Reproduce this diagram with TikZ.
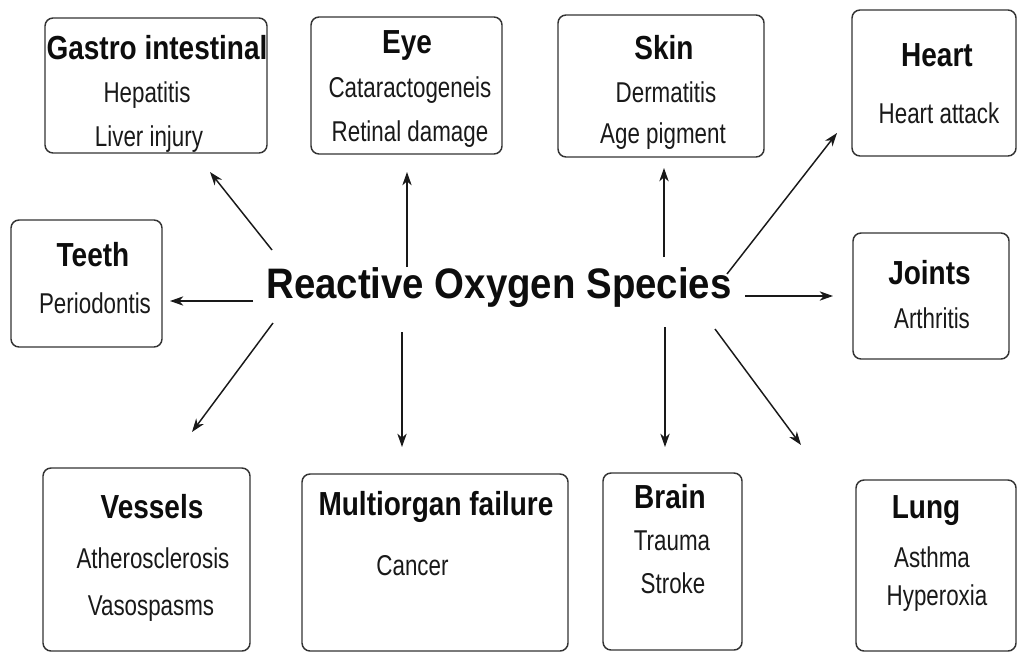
\documentclass[tikz,border=0pt]{standalone}
\usepackage{fontspec}
\setmainfont{Liberation Sans}
\newfontfamily\itemfont{Liberation Sans}[FakeStretch=0.78]
\newfontfamily\headfont{Liberation Sans}[FakeStretch=0.84]
\newfontfamily\rosfont{Liberation Sans}[FakeStretch=0.9]
\usetikzlibrary{arrows.meta}

\tikzset{
  box/.style={draw=black!80, line width=1.1pt, rounded corners=6pt, inner sep=0pt},
  head/.style={font=\headfont\bfseries\fontsize{25}{28}\selectfont, anchor=base, text=black!95, inner sep=0pt},
  item/.style={font=\itemfont\fontsize{21.5}{24}\selectfont, anchor=base, text=black!90, inner sep=0pt},
  arr/.style={-{Stealth[length=10pt,width=7pt,inset=3pt]}, line width=1.1pt, black!90}
}

\begin{document}
\begin{tikzpicture}[x=0.75pt,y=-0.75pt]
\useasboundingbox (0,0) rectangle (1018,653);
% boxes
\node[box, minimum width=166.5pt, minimum height=101.25pt] (gastro) at (156,85.5) {};
\node[box, minimum width=143.25pt, minimum height=102.75pt] (eye) at (406.5,85.5) {};
\node[box, minimum width=154.5pt, minimum height=106.5pt] (skin) at (661,86) {};
\node[box, minimum width=123pt, minimum height=109.5pt] (heart) at (934,83) {};
\node[box, minimum width=113.25pt, minimum height=95.25pt] (teeth) at (86.5,283.5) {};
\node[box, minimum width=117pt, minimum height=94.5pt] (joints) at (931,296) {};
\node[box, minimum width=155.25pt, minimum height=137.25pt] (vessels) at (146.5,559.5) {};
\node[box, minimum width=199.5pt, minimum height=132.75pt] (multi) at (435,562.5) {};
\node[box, minimum width=104.25pt, minimum height=132.75pt] (brain) at (672.5,561.5) {};
\node[box, minimum width=120pt, minimum height=128.25pt] (lung) at (936,565.5) {};

% texts
\node[head] (gastro-t) at (157,59) {Gastro intestinal};
\node[item] (gastro-a) at (147,102) {Hepatitis};
\node[item] (gastro-b) at (149,146) {Liver injury};
\node[head] (eye-t) at (407,53) {Eye};
\node[item] (eye-a) at (410,97) {Cataractogeneis};
\node[item] (eye-b) at (410,141) {Retinal damage};
\node[head] (skin-t) at (664,60) {Skin};
\node[item] (skin-a) at (666,102) {Dermatitis};
\node[item] (skin-b) at (663,143) {Age pigment};
\node[head] (heart-t) at (937,66) {Heart};
\node[item] (heart-a) at (939,123) {Heart attack};
\node[head] (teeth-t) at (93,266) {Teeth};
\node[item] (teeth-a) at (95,313) {Periodontis};
\node[head] (joints-t) at (929.5,284) {Joints};
\node[item] (joints-a) at (932,328) {Arthritis};
\node[head] (vessels-t) at (152,518) {Vessels};
\node[item] (vessels-a) at (153,568) {Atherosclerosis};
\node[item] (vessels-b) at (151,615) {Vasospasms};
\node[head] (multi-t) at (436,515) {Multiorgan failure};
\node[item] (multi-a) at (412.5,575) {Cancer};
\node[head] (brain-t) at (670,508) {Brain};
\node[item] (brain-a) at (672,550) {Trauma};
\node[item] (brain-b) at (673,593) {Stroke};
\node[head] (lung-t) at (926,518) {Lung};
\node[item] (lung-a) at (932,567) {Asthma};
\node[item] (lung-b) at (937,605) {Hyperoxia};

\node[font=\rosfont\bfseries\fontsize{32}{36}\selectfont, anchor=base, text=black!95, inner sep=0pt] (ros) at (499,298) {Reactive Oxygen Species};

% arrow ends
\coordinate (gastro-s) at (272,250);  \coordinate (gastro-e) at (210,172);
\coordinate (eye-s) at (407,267);     \coordinate (eye-e) at (407,172);
\coordinate (skin-s) at (664,257);    \coordinate (skin-e) at (664,168);
\coordinate (heart-s) at (727,274);   \coordinate (heart-e) at (837,133);
\coordinate (teeth-s) at (253,301);   \coordinate (teeth-e) at (170,301);
\coordinate (joints-s) at (745,296);  \coordinate (joints-e) at (833,296);
\coordinate (vessels-s) at (273,323); \coordinate (vessels-e) at (192,432);
\coordinate (multi-s) at (402,332);   \coordinate (multi-e) at (402,447);
\coordinate (brain-s) at (665,327);   \coordinate (brain-e) at (665,447);
\coordinate (lung-s) at (715,329);    \coordinate (lung-e) at (801,445);

\foreach \n in {gastro,eye,skin,heart,teeth,joints,vessels,multi,brain,lung}
  \draw[arr] (\n-s) -- (\n-e);
\end{tikzpicture}
\end{document}
